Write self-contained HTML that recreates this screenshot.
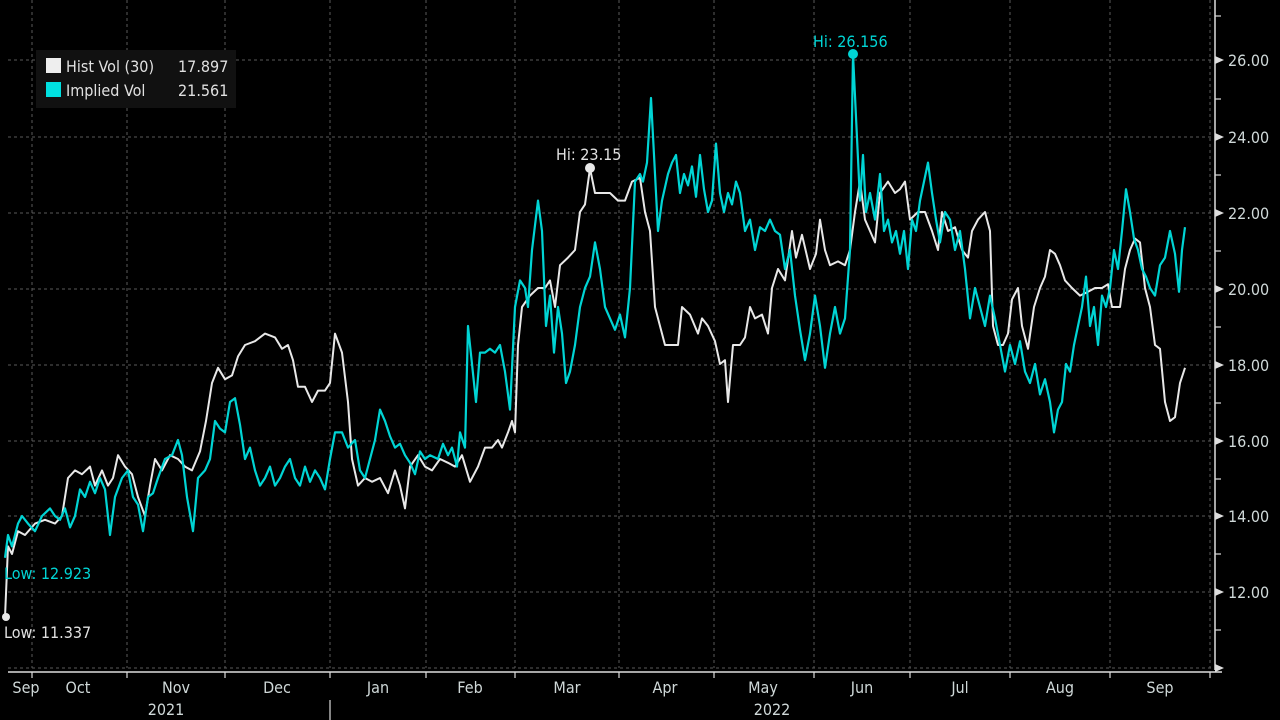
<!DOCTYPE html>
<html><head><meta charset="utf-8"><style>
html,body{margin:0;padding:0;background:#000;width:1280px;height:720px;overflow:hidden}
svg{display:block}
text{font-family:"DejaVu Sans Condensed","Liberation Sans",sans-serif}
</style></head><body>
<svg width="1280" height="720" viewBox="0 0 1280 720" xmlns="http://www.w3.org/2000/svg">
<rect width="1280" height="720" fill="#000"/>
<g stroke="#5a5a5a" stroke-width="1" stroke-dasharray="3,3">
<line x1="8" y1="60" x2="1212" y2="60"/><line x1="8" y1="137" x2="1212" y2="137"/><line x1="8" y1="213" x2="1212" y2="213"/><line x1="8" y1="289" x2="1212" y2="289"/><line x1="8" y1="365" x2="1212" y2="365"/><line x1="8" y1="441" x2="1212" y2="441"/><line x1="8" y1="516" x2="1212" y2="516"/><line x1="8" y1="592" x2="1212" y2="592"/><line x1="8" y1="668" x2="1212" y2="668"/>
<line x1="32" y1="0" x2="32" y2="668"/><line x1="127" y1="0" x2="127" y2="668"/><line x1="225" y1="0" x2="225" y2="668"/><line x1="330" y1="0" x2="330" y2="668"/><line x1="426" y1="0" x2="426" y2="668"/><line x1="515" y1="0" x2="515" y2="668"/><line x1="619" y1="0" x2="619" y2="668"/><line x1="714" y1="0" x2="714" y2="668"/><line x1="814" y1="0" x2="814" y2="668"/><line x1="910" y1="0" x2="910" y2="668"/><line x1="1010" y1="0" x2="1010" y2="668"/><line x1="1110" y1="0" x2="1110" y2="668"/><line x1="1210" y1="0" x2="1210" y2="668"/>
</g>
<g transform="matrix(1 0 0 -38 0 1048)" fill="none" stroke-linejoin="round">
<polyline vector-effect="non-scaling-stroke" stroke="#e8e8e8" stroke-width="2" points="5,11.337 8,13.2 12,13.0 18,13.6 25,13.5 35,13.8 45,13.9 55,13.8 62,14.0 68,15.0 75,15.2 82,15.1 90,15.3 95,14.8 102,15.2 108,14.8 113,15.0 118,15.6 125,15.3 132,15.1 138,14.5 145,14.0 150,14.8 155,15.5 162,15.2 170,15.6 178,15.5 185,15.3 192,15.2 200,15.7 206,16.5 212,17.5 218,17.9 225,17.6 232,17.7 238,18.2 245,18.5 255,18.6 265,18.8 275,18.7 282,18.4 288,18.5 293,18.1 298,17.4 305,17.4 312,17.0 318,17.3 325,17.3 330,17.5 335,18.8 342,18.3 348,17.0 352,15.5 358,14.8 365,15.0 372,14.9 380,15.0 388,14.6 395,15.2 400,14.8 405,14.2 410,15.3 418,15.6 425,15.3 432,15.2 440,15.5 448,15.4 455,15.3 462,15.6 470,14.9 478,15.3 485,15.8 492,15.8 498,16.0 502,15.8 508,16.2 512,16.5 515,16.2 518,18.5 522,19.5 530,19.8 538,20.0 545,20.0 550,20.2 555,19.5 560,20.6 568,20.8 575,21.0 580,22.0 585,22.2 590,23.15 595,22.5 602,22.5 610,22.5 618,22.3 625,22.3 632,22.8 640,22.9 645,22.0 650,21.5 655,19.5 660,19.0 665,18.5 672,18.5 678,18.5 682,19.5 690,19.3 698,18.8 702,19.2 708,19.0 715,18.6 720,18.0 725,18.1 728,17.0 733,18.5 740,18.5 745,18.7 750,19.5 755,19.2 762,19.3 768,18.8 772,20.0 778,20.5 785,20.2 792,21.5 796,20.8 802,21.4 810,20.5 816,20.9 820,21.8 825,21.0 830,20.6 838,20.7 845,20.6 850,21.0 855,22.0 860,22.8 865,21.8 870,21.5 875,21.2 880,22.5 888,22.8 895,22.5 900,22.6 905,22.8 910,21.8 918,22.0 925,22.0 932,21.5 938,21.0 942,22.0 948,21.5 955,21.6 962,21.0 968,20.8 972,21.5 978,21.8 985,22.0 990,21.5 993,19.0 998,18.5 1003,18.5 1008,18.8 1012,19.7 1018,20.0 1022,19.0 1028,18.4 1034,19.5 1040,20.0 1045,20.3 1050,21.0 1055,20.9 1060,20.6 1065,20.2 1072,20.0 1080,19.8 1088,19.9 1095,20.0 1102,20.0 1108,20.1 1112,19.5 1120,19.5 1125,20.5 1130,21.0 1135,21.3 1140,21.2 1145,20.0 1150,19.5 1155,18.5 1160,18.4 1165,17.0 1170,16.5 1175,16.6 1180,17.5 1185,17.9"/>
<polyline vector-effect="non-scaling-stroke" stroke="#00d4d4" stroke-width="2.2" points="5,12.9 8,13.5 12,13.2 18,13.8 22,14.0 28,13.8 35,13.6 42,14.0 50,14.2 55,14.0 60,13.9 65,14.2 70,13.7 75,14.0 80,14.7 85,14.5 90,14.9 95,14.6 100,15.0 105,14.7 110,13.5 115,14.5 122,15.0 128,15.2 133,14.5 138,14.3 143,13.6 148,14.5 153,14.6 158,15.0 165,15.5 172,15.6 178,16.0 182,15.6 187,14.5 193,13.6 198,15.0 205,15.2 210,15.5 215,16.5 220,16.3 225,16.2 230,17.0 235,17.1 240,16.4 245,15.5 250,15.8 255,15.2 260,14.8 265,15.0 270,15.3 275,14.8 280,15.0 285,15.3 290,15.5 295,15.0 300,14.8 305,15.3 310,14.9 315,15.2 320,15.0 325,14.7 330,15.5 335,16.2 342,16.2 348,15.8 355,16.0 360,15.2 365,15.0 370,15.5 375,16.0 380,16.8 385,16.5 390,16.1 395,15.8 400,15.9 405,15.6 410,15.4 415,15.1 420,15.7 425,15.5 430,15.6 438,15.5 443,15.9 448,15.6 452,15.8 457,15.3 460,16.2 465,15.8 468,19.0 472,18.0 476,17.0 480,18.3 485,18.3 490,18.4 495,18.3 500,18.5 505,17.8 510,16.8 515,19.5 520,20.2 525,20.0 528,19.5 532,21.0 538,22.3 542,21.5 546,19.0 550,19.8 554,18.3 558,19.5 562,18.8 566,17.5 570,17.8 575,18.5 580,19.5 585,20.0 590,20.3 595,21.2 600,20.5 605,19.5 610,19.2 615,18.9 620,19.3 625,18.7 630,20.0 635,22.8 640,23.0 643,22.8 647,23.3 651,25.0 654,23.5 658,21.5 662,22.3 668,23.0 672,23.3 676,23.5 680,22.5 684,23.0 688,22.7 692,23.2 696,22.4 700,23.5 704,22.6 708,22.0 712,22.3 716,23.8 720,22.5 724,22.0 728,22.5 732,22.2 736,22.8 740,22.5 745,21.5 750,21.8 755,21.0 760,21.6 765,21.5 770,21.8 775,21.5 780,21.4 785,20.5 790,21.0 795,19.8 800,18.9 805,18.1 810,18.8 815,19.8 820,19.0 825,17.9 830,18.8 835,19.5 840,18.8 845,19.2 850,21.0 853,26.156 856,24.5 860,22.3 863,23.5 866,22.0 870,22.5 875,21.8 880,23.0 884,21.5 888,21.8 892,21.2 896,21.5 900,20.9 904,21.5 908,20.5 912,21.8 916,21.5 920,22.3 924,22.8 928,23.3 932,22.5 936,21.8 940,21.2 945,22.0 950,21.8 955,21.0 960,21.5 965,20.5 970,19.2 975,20.0 980,19.5 985,19.0 990,19.8 995,19.2 1000,18.5 1005,17.8 1010,18.5 1015,18.0 1020,18.6 1025,17.8 1030,17.5 1035,18.0 1040,17.2 1045,17.6 1050,17.0 1054,16.2 1058,16.8 1062,17.0 1066,18.0 1070,17.8 1074,18.5 1078,19.0 1082,19.5 1086,20.3 1090,19.0 1094,19.5 1098,18.5 1102,19.8 1106,19.5 1110,20.0 1114,21.0 1118,20.5 1122,21.5 1126,22.6 1130,22.0 1134,21.3 1138,21.0 1142,20.5 1146,20.3 1150,20.0 1155,19.8 1160,20.6 1165,20.8 1170,21.5 1175,20.9 1179,19.9 1182,21.0 1185,21.6"/>
</g>
<circle cx="590" cy="168" r="5" fill="#e8e8e8"/>
<circle cx="853" cy="54" r="5" fill="#00d4d4"/>
<circle cx="6" cy="617" r="4" fill="#e8e8e8"/>
<g font-size="16">
<text x="556" y="160" fill="#e0e0e0">Hi: 23.15</text>
<text x="813" y="47" fill="#00d4d4">Hi: 26.156</text>
<text x="4" y="579" fill="#00d4d4">Low: 12.923</text>
<text x="4" y="638" fill="#e0e0e0">Low: 11.337</text>
</g>
<rect x="36" y="50" width="200" height="58" fill="#111"/>
<rect x="46" y="58" width="15" height="15" fill="#eee"/>
<rect x="46" y="82" width="15" height="15" fill="#00e0e0"/>
<g font-size="16" fill="#e0e0e0">
<text x="66" y="72">Hist Vol (30)</text><text x="178" y="72">17.897</text>
<text x="66" y="96">Implied Vol</text><text x="178" y="96">21.561</text>
</g>
<line x1="1215" y1="0" x2="1215" y2="670" stroke="#ddd" stroke-width="1.5"/>
<line x1="8" y1="672" x2="1222" y2="672" stroke="#ddd" stroke-width="1.5"/>
<g fill="#ddd">
<polygon points="1215,56 1224,60 1215,64"/><polygon points="1215,133 1224,137 1215,141"/><polygon points="1215,209 1224,213 1215,217"/><polygon points="1215,285 1224,289 1215,293"/><polygon points="1215,361 1224,365 1215,369"/><polygon points="1215,437 1224,441 1215,445"/><polygon points="1215,512 1224,516 1215,520"/><polygon points="1215,588 1224,592 1215,596"/><polygon points="1215,664 1224,668 1215,672"/>
</g>
<g stroke="#ddd" stroke-width="1.2">
<line x1="1215" y1="16" x2="1221" y2="16"/><line x1="1215" y1="99" x2="1221" y2="99"/><line x1="1215" y1="175" x2="1221" y2="175"/><line x1="1215" y1="251" x2="1221" y2="251"/><line x1="1215" y1="327" x2="1221" y2="327"/><line x1="1215" y1="403" x2="1221" y2="403"/><line x1="1215" y1="479" x2="1221" y2="479"/><line x1="1215" y1="554" x2="1221" y2="554"/><line x1="1215" y1="630" x2="1221" y2="630"/>
<line x1="32" y1="672" x2="32" y2="678"/><line x1="127" y1="672" x2="127" y2="678"/><line x1="225" y1="672" x2="225" y2="678"/><line x1="330" y1="672" x2="330" y2="678"/><line x1="426" y1="672" x2="426" y2="678"/><line x1="515" y1="672" x2="515" y2="678"/><line x1="619" y1="672" x2="619" y2="678"/><line x1="714" y1="672" x2="714" y2="678"/><line x1="814" y1="672" x2="814" y2="678"/><line x1="910" y1="672" x2="910" y2="678"/><line x1="1010" y1="672" x2="1010" y2="678"/><line x1="1110" y1="672" x2="1110" y2="678"/><line x1="1210" y1="672" x2="1210" y2="678"/>
<line x1="330" y1="700" x2="330" y2="720"/>
</g>
<g font-size="16" fill="#cfd8d8">
<text x="1228" y="66">26.00</text><text x="1228" y="143">24.00</text><text x="1228" y="219">22.00</text><text x="1228" y="295">20.00</text><text x="1228" y="371">18.00</text><text x="1228" y="447">16.00</text><text x="1228" y="522">14.00</text><text x="1228" y="598">12.00</text>
</g>
<g font-size="16" fill="#cfd8d8" text-anchor="middle">
<text x="26" y="693">Sep</text><text x="78" y="693">Oct</text><text x="176" y="693">Nov</text><text x="277" y="693">Dec</text><text x="378" y="693">Jan</text><text x="470" y="693">Feb</text><text x="567" y="693">Mar</text><text x="665" y="693">Apr</text><text x="763" y="693">May</text><text x="862" y="693">Jun</text><text x="960" y="693">Jul</text><text x="1060" y="693">Aug</text><text x="1160" y="693">Sep</text>
<text x="166" y="715">2021</text><text x="772" y="715">2022</text>
</g>
</svg>
</body></html>
